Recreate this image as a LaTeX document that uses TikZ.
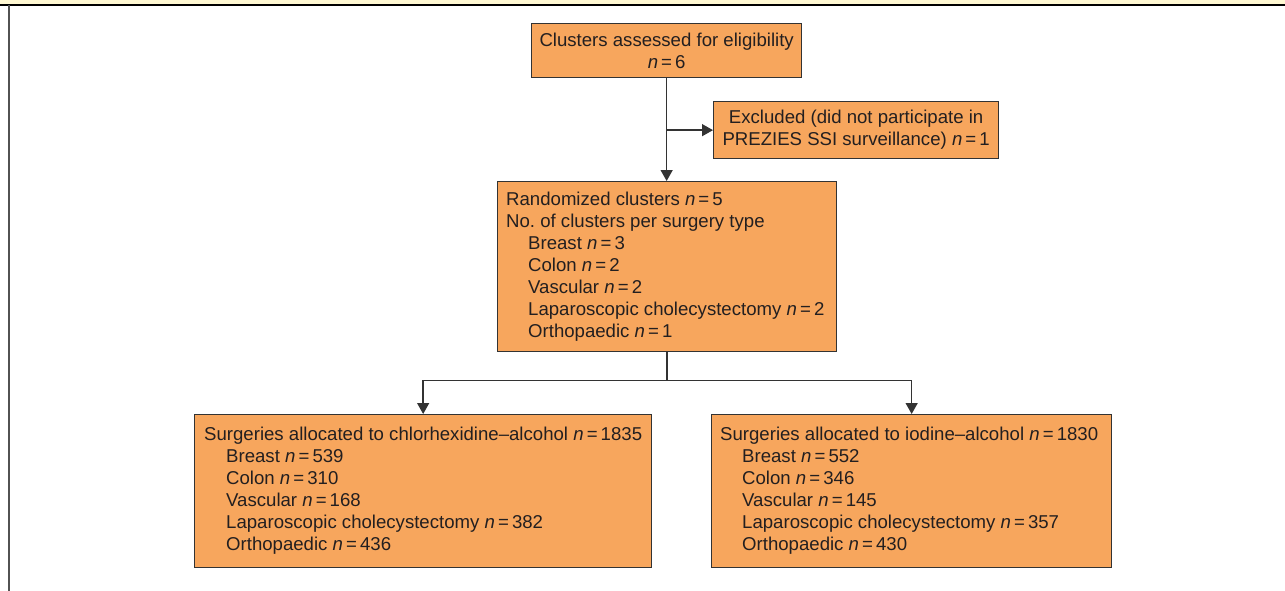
\documentclass[tikz,border=0pt]{standalone}
\usepackage{fontspec}
\setmainfont{Liberation Sans}
\usetikzlibrary{arrows.meta}
\definecolor{boxfill}{HTML}{F7A65D}
\definecolor{edge}{HTML}{333333}
\definecolor{strip}{HTML}{FFF8D2}
\definecolor{txt}{HTML}{231F20}
\newcommand{\nn}[1]{\textit{n}\,=\,#1}
\newcommand{\ind}{\hspace*{22pt}}
\tikzset{
  box/.style={draw=edge, line width=1.3pt, fill=boxfill, anchor=north west,
    inner sep=0pt, font=\fontsize{18.6}{22}\selectfont, text=txt},
  label/.style={inner sep=0pt, anchor=west, align=left, font=\fontsize{18.6}{22}\selectfont, text=txt},
  conn/.style={draw=edge, line width=1.4pt},
  arr/.style={conn, -{Triangle[length=11pt,width=12pt]}},
}
\begin{document}
\begin{tikzpicture}[x=1pt,y=-1pt]
\useasboundingbox (0,0) rectangle (1285,591);
\fill[strip] (0,0) rectangle (1285,4);
\draw[line width=1.6pt, black] (0,5) -- (1285,5);
\draw[line width=2pt, edge!85] (9,5) -- (9,591);

\node[box, minimum width=270pt, minimum height=54pt, align=center] (b1) at (531,23)
  {Clusters assessed for eligibility\\ \nn{6}};
\node[box, minimum width=285pt, minimum height=57pt, align=center] (b2) at (713,101)
  {Excluded (did not participate in\\ PREZIES SSI surveillance) \nn{1}};
\node[box, minimum width=339pt, minimum height=170pt] (b3) at (497,181) {};
\node[label] (t3) at ([xshift=9pt]b3.west)
  {Randomized clusters \nn{5}\\
   No.\ of clusters per surgery type\\
   \ind Breast \nn{3}\\
   \ind Colon \nn{2}\\
   \ind Vascular \nn{2}\\
   \ind Laparoscopic cholecystectomy \nn{2}\\
   \ind Orthopaedic \nn{1}};
\node[box, minimum width=457pt, minimum height=153pt] (b4) at (194,414) {};
\node[label] (t4) at ([xshift=10pt]b4.west)
  {Surgeries allocated to chlorhexidine--alcohol \nn{1835}\\
   \ind Breast \nn{539}\\
   \ind Colon \nn{310}\\
   \ind Vascular \nn{168}\\
   \ind Laparoscopic cholecystectomy \nn{382}\\
   \ind Orthopaedic \nn{436}};
\node[box, minimum width=400pt, minimum height=153pt] (b5) at (711,414) {};
\node[label] (t5) at ([xshift=9pt]b5.west)
  {Surgeries allocated to iodine--alcohol \nn{1830}\\
   \ind Breast \nn{552}\\
   \ind Colon \nn{346}\\
   \ind Vascular \nn{145}\\
   \ind Laparoscopic cholecystectomy \nn{357}\\
   \ind Orthopaedic \nn{430}};

\draw[arr] (b1.south) -- (b1.south |- b3.north);
\coordinate (j1) at (b1.south |- b2.west);
\draw[arr] (j1) -- (b2.west);
\coordinate (s) at ([yshift=-28pt]b3.south);
\draw[conn] (b3.south) -- (s);
\draw[arr] (s) -| (b4.north);
\draw[arr] (s) -| (b5.north);
\end{tikzpicture}
\end{document}
